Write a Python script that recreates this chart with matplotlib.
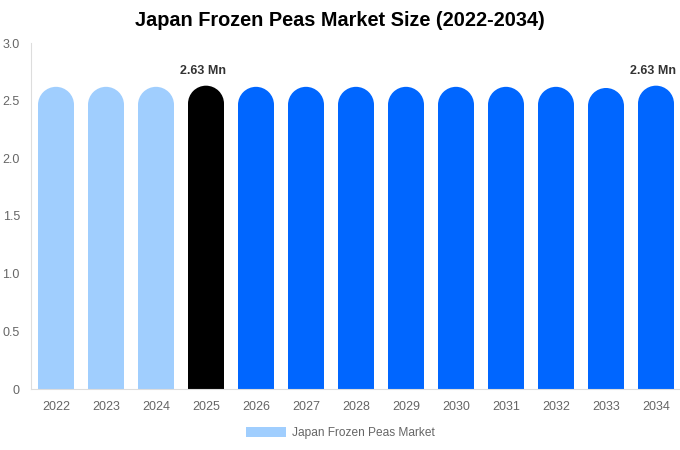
import matplotlib
matplotlib.use("Agg")
import matplotlib.pyplot as plt
from matplotlib.patches import Ellipse, Patch
import numpy as np

plt.rcParams['font.family'] = ['Liberation Sans', 'DejaVu Sans']

# data
years = ['2022', '2023', '2024', '2025', '2026', '2027', '2028',
         '2029', '2030', '2031', '2032', '2033', '2034']
values = [2.62, 2.62, 2.62, 2.63, 2.62, 2.62, 2.62,
          2.62, 2.62, 2.62, 2.62, 2.61, 2.63]
colors = ['#a0cefe'] * 3 + ['#000000'] + ['#0066ff'] * 9
labelled = {'2025': '2.63 Mn', '2034': '2.63 Mn'}

fig = plt.figure(figsize=(6.8, 4.5), dpi=100)
ax = fig.add_axes([31/680, 1 - 389/450, 650/680, 346/450])

ymax = 3.0
bar_w = 0.72
x = np.arange(len(years))

# rounded tops: half-width radius, converted to data units
ax_h_px = 346
ry = (bar_w / 2 * 50) / (ax_h_px / ymax)
vals = np.array(values)
ax.bar(x, vals - ry, width=bar_w, color=colors, linewidth=0)
for xi, v, c in zip(x, vals, colors):
    ax.add_patch(Ellipse((xi, v - ry), bar_w, 2 * ry, color=c, lw=0))

for xi, (yr, v) in enumerate(zip(years, values)):
    if yr in labelled:
        ax.annotate(labelled[yr], (xi, v), xytext=(-2, 6), textcoords='offset points',
                    ha='center', va='bottom', fontsize=9, fontweight='bold',
                    color='#333333')

ax.set_xlim(-0.5, len(years) - 0.5)
ax.set_ylim(0, ymax)
ax.set_xticks(x)
ax.set_xticklabels(years)
ax.set_yticks([0, 0.5, 1.0, 1.5, 2.0, 2.5, 3.0])
ax.set_yticklabels(['0', '0.5', '1.0', '1.5', '2.0', '2.5', '3.0'])
ax.tick_params(axis='both', length=0, labelsize=9, colors='#666666')
ax.tick_params(axis='x', pad=9)
ax.tick_params(axis='y', pad=8)
for s in ['top', 'right']:
    ax.spines[s].set_visible(False)
ax.spines['left'].set_color('#dddddd')
ax.spines['bottom'].set_color('#dddddd')

fig.text(0.5, 1 - 21/450, 'Japan Frozen Peas Market Size (2022-2034)',
         ha='center', va='center', fontsize=14.3, fontweight='bold', color='#000000')

handle = Patch(facecolor='#a0cefe', edgecolor='none')
fig.legend([handle], ['Japan Frozen Peas Market'], loc='center',
           bbox_to_anchor=(0.5, 1 - 433/450), frameon=False, fontsize=8.6,
           labelcolor='#666666', handlelength=3.35, handleheight=0.92,
           handletextpad=0.5)

fig.savefig('out.png', dpi=100)
